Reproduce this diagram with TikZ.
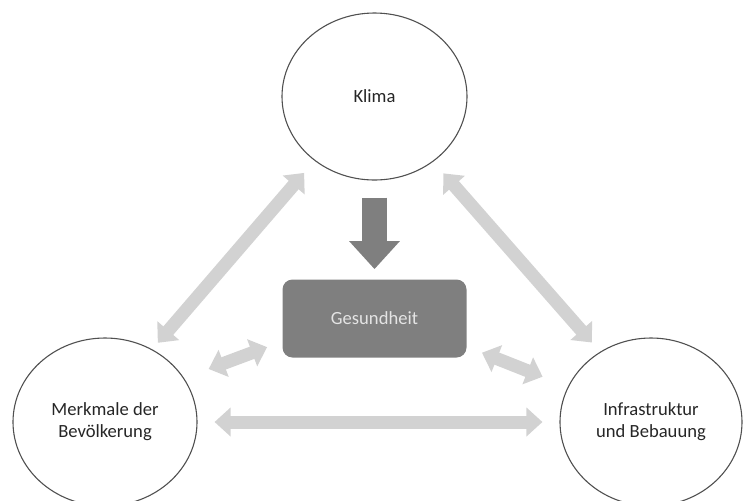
\documentclass[tikz,border=0pt]{standalone}
\usepackage{fontspec}
\setmainfont{Carlito}
\usetikzlibrary{arrows.meta,shapes.geometric}
\definecolor{lightarrow}{RGB}{210,210,210}
\definecolor{darkbox}{RGB}{127,127,127}
\definecolor{circleline}{RGB}{80,80,80}
\definecolor{boxtext}{RGB}{228,228,228}
\definecolor{bodytext}{RGB}{38,38,38}

\begin{document}
\begin{tikzpicture}[x=0.5pt,y=-0.5pt,
		circ/.style={draw=circleline,line width=0.55pt,ellipse,align=center,text=bodytext,inner sep=0pt,font=\fontsize{9.3}{11}\selectfont},
		biarrow/.style={draw=lightarrow,line width=6.5pt,{Triangle[width=14pt,length=8pt]}-{Triangle[width=14pt,length=8pt]}}]
				\useasboundingbox (0,0) rectangle (750,500);
				\node[circ,minimum width=92.5pt,minimum height=83.5pt] (klima) at (374.5,96.5) {Klima};
				\node[circ,minimum width=92pt,minimum height=84pt] (bev) at (105,422) {Merkmale der\\Bevölkerung};
				\node[circ,minimum width=91pt,minimum height=84pt] (infra) at (651,422) {Infrastruktur\\und Bebauung};
				\node[draw=none,fill=darkbox,rounded corners=5pt,minimum width=92pt,minimum height=39pt,text=boxtext,font=\fontsize{9.3}{11}\selectfont] (gesundheit) at (374.5,318.5) {Gesundheit};
				\draw[draw=darkbox,line width=12.5pt,-{Triangle[width=24.5pt,length=14pt]},shorten <=8.5pt,shorten >=5pt] (klima.south) -- (gesundheit.north);
				\draw[biarrow,shorten <=4.3pt,shorten >=8pt] (bev.57.4) -- (klima.227.5);
				\draw[biarrow,shorten <=7.75pt,shorten >=6.2pt] (klima.312) -- (infra.126.1);
				\draw[biarrow,shorten <=8.5pt,shorten >=8.5pt] (bev.east) -- (infra.west);
				\draw[biarrow,shorten <=13.1pt,shorten >=8pt] (bev.29.3) -- (gesundheit.194.1);
				\draw[biarrow,shorten <=8.1pt,shorten >=13.55pt] (gesundheit.343.5) -- (infra.157.3);
			\end{tikzpicture}
\end{document}
